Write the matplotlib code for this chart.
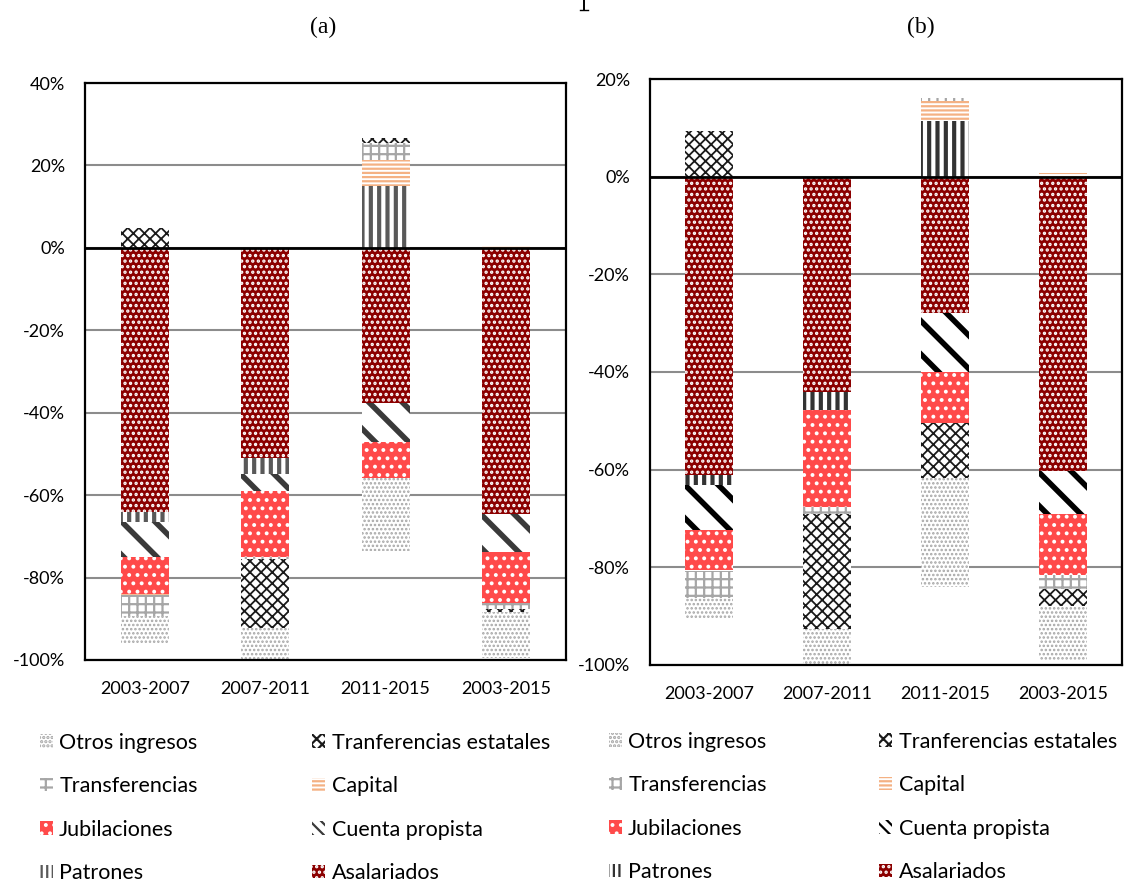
import matplotlib
matplotlib.use("Agg")
import matplotlib.pyplot as plt
from matplotlib.patches import Patch
from matplotlib.lines import Line2D
import numpy as np

categories = ["2003-2007", "2007-2011", "2011-2015", "2003-2015"]

# series in stacking order (closest to zero first), values in %
series = ["Asalariados", "Patrones", "Cuenta propista", "Jubilaciones",
          "Capital", "Transferencias", "Tranferencias estatales", "Otros ingresos"]

# Panel (a)
a_asalariados = [-64.1, -51.1, -37.6, -64.6]
a_patrones = [-2.4, -3.7, 15.0, 0.0]
a_cuenta = [-8.5, -4.2, -9.4, -9.1]
a_jubilaciones = [-8.9, -16.0, -8.9, -12.4]
a_capital = [-0.3, 0.0, 6.3, 0.8]
a_transferencias = [-5.1, -0.6, 4.2, -1.6]
a_transf_estatales = [4.7, -16.7, 1.1, -0.6]
a_otros = [-6.6, -8.0, -17.7, -11.2]

# Panel (b)
b_asalariados = [-61.0, -44.1, -27.9, -60.3]
b_patrones = [-2.2, -3.6, 11.3, 0.0]
b_cuenta = [-9.1, 0.0, -12.0, -8.7]
b_jubilaciones = [-8.2, -20.0, -10.6, -12.5]
b_capital = [-0.2, 0.0, 4.1, 0.8]
b_transferencias = [-5.5, -1.3, 0.7, -2.9]
b_transf_estatales = [9.4, -23.6, -11.3, -3.6]
b_otros = [-4.4, -7.3, -22.2, -10.9]

yticks_a = [40, 20, 0, -20, -40, -60, -80, -100]
yticks_b = [20, 0, -20, -40, -60, -80, -100]

W, H = 1125, 886
fig = plt.figure(figsize=(W / 100, H / 100), dpi=100)
plt.rcParams['hatch.linewidth'] = 1.6

FONT = ["Lato", "DejaVu Sans"]

styles_a = {
    "Asalariados": dict(face="#8B0000", hatch="...", hc="#FFFFFF", lw=1.6),
    "Patrones": dict(face="#FFFFFF", hatch="||", hc="#595959", lw=3.0),
    "Cuenta propista": dict(face="#FFFFFF", hatch="\\", hc="#3A3A3A", lw=4.0),
    "Jubilaciones": dict(face="#FF4A4A", hatch="..", hc="#FFFFFF", lw=1.6),
    "Capital": dict(face="#FFFFFF", hatch="----", hc="#F4B183", lw=1.6),
    "Transferencias": dict(face="#FFFFFF", hatch="++", hc="#A6A6A6", lw=1.6),
    "Tranferencias estatales": dict(face="#FFFFFF", hatch="xxx", hc="#1A1A1A", lw=1.3),
    "Otros ingresos": dict(face="#FFFFFF", hatch="....", hc="#A6A6A6", lw=1.2),
}
styles_b = dict(styles_a)
styles_b["Patrones"] = dict(face="#FFFFFF", hatch="||", hc="#333333", lw=3.0)
styles_b["Cuenta propista"] = dict(face="#FFFFFF", hatch="\\", hc="#000000", lw=4.0)

# legend swatches are tiny, so denser / thinner hatches there
legend_hatch = {"Cuenta propista": ("\\\\\\", 2.2), "Patrones": ("|||", 2.0)}

data_a = [a_asalariados, a_patrones, a_cuenta, a_jubilaciones,
          a_capital, a_transferencias, a_transf_estatales, a_otros]
data_b = [b_asalariados, b_patrones, b_cuenta, b_jubilaciones,
          b_capital, b_transferencias, b_transf_estatales, b_otros]


def px_rect(l, r, t, b):
    return [l / W, 1 - b / H, (r - l) / W, (b - t) / H]


def draw_panel(rect, data, styles, ylim, yticks):
    ax = fig.add_axes(rect)
    x = np.arange(len(categories))
    pos = np.zeros(len(categories))
    neg = np.zeros(len(categories))
    for name, vals in zip(series, data):
        v = np.array(vals, dtype=float)
        bottoms = np.where(v >= 0, pos, neg)
        st = styles[name]
        with plt.rc_context({'hatch.linewidth': st["lw"]}):
            ax.bar(x, v, width=0.4, bottom=bottoms, color=st["face"],
                   edgecolor=st["hc"], hatch=st["hatch"], linewidth=0, zorder=2)
        pos = pos + np.where(v > 0, v, 0)
        neg = neg + np.where(v < 0, v, 0)
    ax.set_xlim(-0.5, len(categories) - 0.5)
    ax.set_ylim(*ylim)
    ax.set_yticks(yticks)
    ax.set_yticklabels([f"{t}%" for t in yticks], fontsize=13, family=FONT)
    ax.set_xticks(x)
    ax.set_xticklabels(categories, fontsize=13, family=FONT)
    ax.tick_params(axis='y', length=0, pad=14.5)
    ax.tick_params(axis='x', length=0, pad=15)
    ax.yaxis.grid(True, color="#8C8C8C", linewidth=1.5, zorder=0)
    ax.set_axisbelow(True)
    ax.axhline(0, color="black", linewidth=2, zorder=3)
    for s in ax.spines.values():
        s.set_color("black")
        s.set_linewidth(1.6)
    return ax


ax_a = draw_panel(px_rect(85, 566, 83, 660), data_a, styles_a, (-100, 40), yticks_a)
ax_b = draw_panel(px_rect(650, 1122, 79, 665), data_b, styles_b, (-100, 20), yticks_b)

fig.text(323 / W, 1 - 27 / H, "(a)", ha="center", va="center", fontsize=17,
         family=["Liberation Serif"])
fig.text(921 / W, 1 - 27 / H, "(b)", ha="center", va="center", fontsize=17,
         family=["Liberation Serif"])

# fragment of a cropped title stroke at the very top
fig.add_artist(Line2D([584 / W, 584 / W], [1.0, 1 - 10 / H], color="black",
                      linewidth=1.4, transform=fig.transFigure))
fig.add_artist(Line2D([580 / W, 588 / W], [1 - 10 / H, 1 - 10 / H], color="black",
                      linewidth=1.0, transform=fig.transFigure))

legend_order = ["Otros ingresos", "Transferencias", "Jubilaciones", "Patrones",
                "Tranferencias estatales", "Capital", "Cuenta propista", "Asalariados"]


def make_legend(styles, anchor, colspace):
    handles = []
    for name in legend_order:
        st = styles[name]
        hatch, lw = legend_hatch.get(name, (st["hatch"], min(st["lw"], 2.0)))
        with plt.rc_context({'hatch.linewidth': lw}):
            handles.append(Patch(facecolor=st["face"], edgecolor=st["hc"],
                                 hatch=hatch, linewidth=0, label=name))
    leg = fig.legend(handles=handles, loc="upper left", bbox_to_anchor=anchor,
                     ncol=2, frameon=False, prop=dict(family=FONT, size=15.5),
                     handlelength=0.6, handleheight=0.6, handletextpad=0.3,
                     labelspacing=1.09, columnspacing=colspace, borderpad=0)
    return leg


make_legend(styles_a, (29 / W, 1 - 722 / H), 5.33)
make_legend(styles_b, (598 / W, 1 - 721 / H), 5.24)

fig.savefig("out.png", dpi=100)
